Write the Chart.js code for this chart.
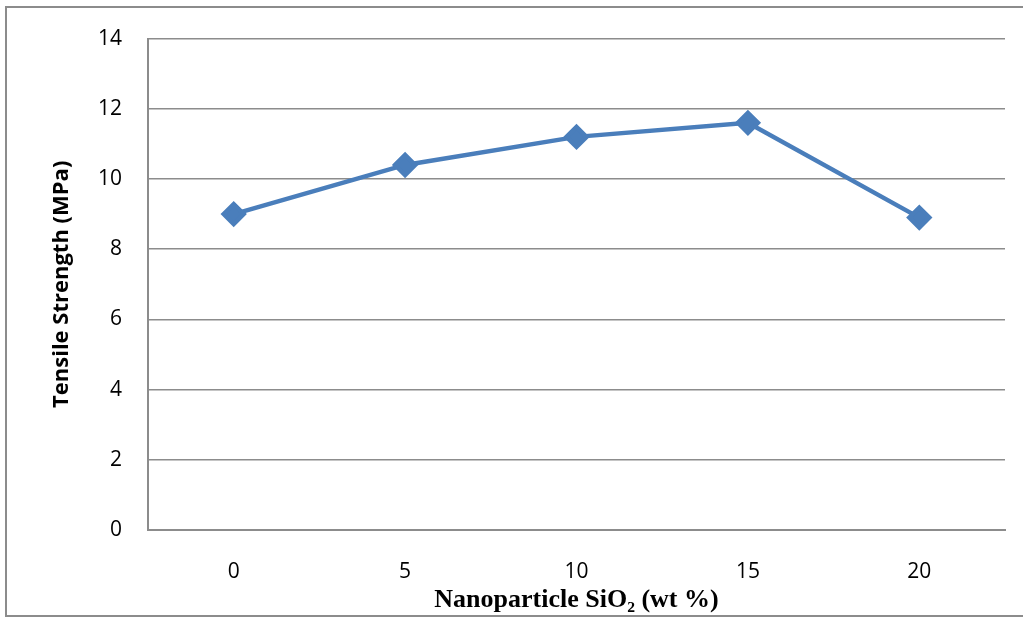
<!DOCTYPE html>
<html>
<head>
<meta charset="utf-8">
<script src="https://cdn.jsdelivr.net/npm/chart.js@4"></script>
<style>
  body { margin: 0; background: #fff; }
  #wrap { position: relative; width: 1023px; height: 617px; overflow: hidden; }
  #frame { position: absolute; left: 5px; top: 6px; width: 1040px; height: 607px; border: 2px solid #8c8c8c; }
  canvas { position: absolute; left: 0; top: 0; }
</style>
</head>
<body>
<div id="wrap">
  <div id="frame"></div>
  <canvas id="chart" width="1023" height="617"></canvas>
</div>
<script>
const categories = ["0", "5", "10", "15", "20"];
const tensileStrength = [9.0, 10.4, 11.2, 11.6, 8.9];
const yTicks = [0, 2, 4, 6, 8, 10, 12, 14];

const lineColor = "#4a7ebb";
const gridColor = "#8c8c8c";

const ctx = document.getElementById("chart").getContext("2d");
const chart = new Chart(ctx, {
    type: "line",
    data: {
        labels: categories,
        datasets: [{
            label: "Tensile Strength",
            data: tensileStrength,
            borderColor: lineColor,
            backgroundColor: lineColor,
            borderWidth: 4.5,
            pointStyle: "rectRot",
            pointRadius: 10,
            pointBackgroundColor: lineColor,
            pointBorderColor: lineColor,
            tension: 0,
            fill: false,
        }],
    },
    options: {
        responsive: false,
        animation: false,
        layout: { autoPadding: false, padding: { left: 0, top: 35, right: 18, bottom: 0 } },
        plugins: {
            legend: { display: false },
            tooltip: { enabled: false },
        },
        scales: {
            x: {
                offset: true,
                grid: { display: false, drawTicks: false },
                border: { color: gridColor, width: 2 },
                ticks: {
                    color: "#000",
                    padding: 29,
                    font: { family: "Open Sans", size: 21 },
                },
                title: {
                    display: true,
                    text: "Nanoparticle SiO\u2082 (wt %)",
                    color: "#000",
                    padding: { top: 0, bottom: 1 },
                    font: { family: "Liberation Serif", size: 26, weight: "bold" },
                },
                afterFit: function (scale) { scale.height = 87; },
            },
            y: {
                min: 0,
                max: 14,
                afterBuildTicks: function (scale) {
                    scale.ticks = yTicks.map(v => ({ value: v }));
                },
                grid: { color: gridColor, lineWidth: 1.5, drawTicks: false },
                border: { color: gridColor, width: 2 },
                ticks: {
                    color: "#000",
                    padding: 26,
                    font: { family: "Open Sans", size: 21 },
                },
                title: {
                    display: true,
                    text: "Tensile Strength (MPa)",
                    color: "#000",
                    padding: { top: 49, bottom: 0 },
                    font: { family: "Open Sans", size: 22, weight: "bold" },
                },
                afterFit: function (scale) { scale.width = 148; },
            },
        },
    },
});
</script>
</body>
</html>
